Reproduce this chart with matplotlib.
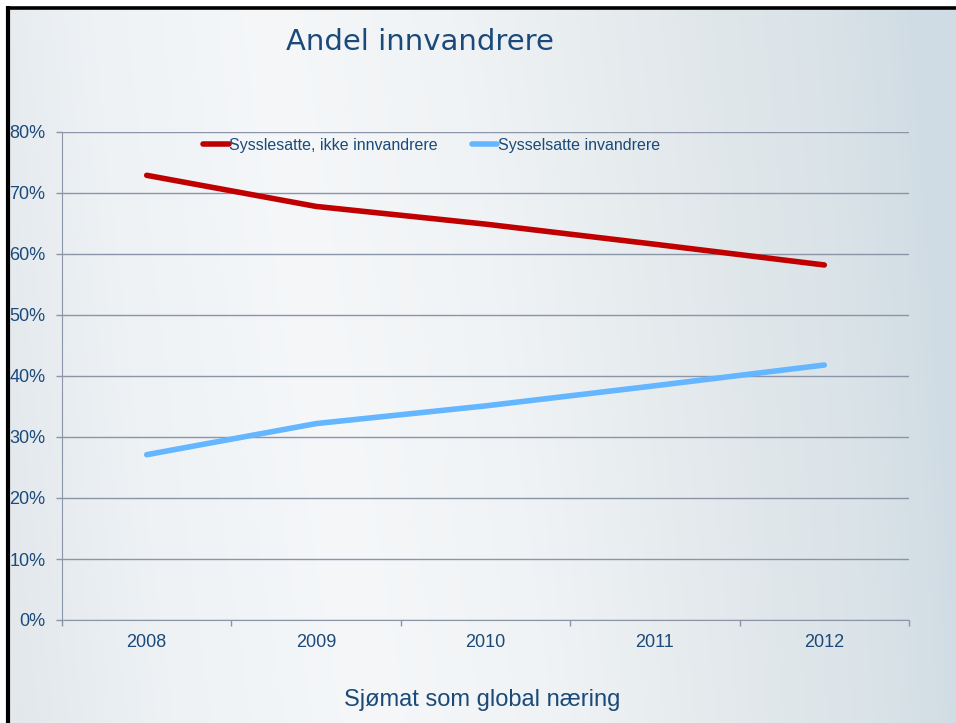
import numpy as np
import matplotlib
matplotlib.use('Agg')
import matplotlib.pyplot as plt
from matplotlib.colors import LinearSegmentedColormap

# data
years = ['2008', '2009', '2010', '2011', '2012']
ikke_innv = [72.9, 67.8, 64.9, 61.6, 58.2]
innv = [27.1, 32.2, 35.1, 38.4, 41.8]
yticks = [0, 10, 20, 30, 40, 50, 60, 70, 80]

txt_col = '#1b4a7a'
grid_col = '#8c94a8'

plt.rcParams['font.family'] = ['Liberation Sans', 'DejaVu Sans']

fig = plt.figure(figsize=(9.56, 7.23), dpi=100)

# slide background with a soft gradient
bg = fig.add_axes([0, 0, 1, 1], zorder=0)
bg.set_axis_off()
cmap = LinearSegmentedColormap.from_list('slide', [
    (0.0, '#e3e8ec'), (0.15, '#eef2f5'), (0.35, '#f5f7f9'), (0.55, '#f0f3f5'),
    (0.75, '#e3e9ec'), (0.9, '#dae3e8'), (1.0, '#d0dce4')])
gx = np.linspace(0, 1, 400)
gy = np.linspace(0, 1, 200)
grad = np.clip(gx[None, :] + 0.12 * (gy[:, None] - 0.3) * (1 - np.abs(gx[None, :] - 0.4)), 0, 1)
bg.imshow(grad, cmap=cmap, aspect='auto', extent=[0, 1, 0, 1], origin='lower',
          interpolation='bilinear')
bg.set_xlim(0, 1)
bg.set_ylim(0, 1)
# white margin and black frame (top and left only)
bg.fill_between([0, 1], 1 - 6 / 723, 1, color='white')
bg.fill_between([0, 6 / 956], 0, 1, color='white')
bg.plot([8 / 956, 1], [1 - 7.5 / 723, 1 - 7.5 / 723], color='black', lw=2.6, solid_capstyle='butt')
bg.plot([8 / 956, 8 / 956], [0, 1 - 6 / 723], color='black', lw=3.0, solid_capstyle='butt')

ax = fig.add_axes([62 / 956, 1 - 620 / 723, 847 / 956, 488 / 723], zorder=2)
ax.patch.set_alpha(0)
x = np.arange(len(years))
ax.plot(x, ikke_innv, color='#c00000', lw=4, solid_capstyle='round',
        label='Sysslesatte, ikke innvandrere')
ax.plot(x, innv, color='#63b6ff', lw=4, solid_capstyle='round',
        label='Sysselsatte invandrere')

ax.set_xlim(-0.5, len(years) - 0.5)
ax.set_ylim(0, 80)
ax.set_yticks(yticks)
ax.set_yticklabels([f'{v}%' for v in yticks])
ax.set_xticks(x)
ax.set_xticklabels(years)
ax.set_xticks(np.arange(-0.5, len(years), 1), minor=True)
ax.tick_params(axis='x', which='major', length=0, pad=10, labelsize=13, labelcolor=txt_col)
ax.tick_params(axis='x', which='minor', length=4, width=1, color=grid_col)
ax.tick_params(axis='y', length=4, width=1, color=grid_col, pad=8, labelsize=13, labelcolor=txt_col)
ax.grid(axis='y', color=grid_col, lw=1)
ax.set_axisbelow(True)
for s in ['top', 'right']:
    ax.spines[s].set_visible(False)
for s in ['left', 'bottom']:
    ax.spines[s].set_color(grid_col)

leg = ax.legend(loc='upper left', bbox_to_anchor=(203 / 956, 1 - 138 / 723),
                bbox_transform=fig.transFigure, ncol=2, frameon=False,
                fontsize=11.5, handlelength=1.6, handletextpad=0.05,
                columnspacing=2.1, borderpad=0, borderaxespad=0)
for t in leg.get_texts():
    t.set_color(txt_col)

fig.text(420 / 956, 1 - 42 / 723, 'Andel innvandrere', ha='center', va='center',
         fontsize=21, color=txt_col, family=['DejaVu Sans'])
fig.text(482 / 956, 1 - 700 / 723, 'Sjømat som global næring', ha='center', va='center',
         fontsize=17, color=txt_col)

fig.savefig('out.png', dpi=100)
